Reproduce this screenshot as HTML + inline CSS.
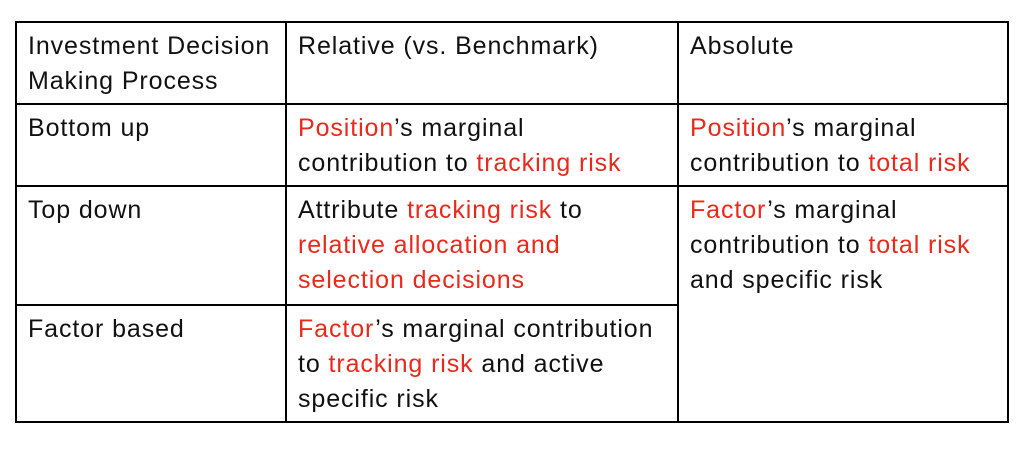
<!DOCTYPE html>
<html><head><meta charset="utf-8"><style>
html,body{margin:0;padding:0;background:#fff;width:1034px;height:464px;overflow:hidden}
body{font-family:"Liberation Sans",sans-serif;font-size:25px;letter-spacing:0.9px;color:#111}
.c{position:absolute;box-sizing:border-box;padding:7px 0 0 12px;line-height:35px;white-space:nowrap}
.r{color:#e8291c}
.h{position:absolute;background:#000;height:2px}
.v{position:absolute;background:#000;width:2px}
</style></head><body>
<div>
<div class="h" style="left:16px;top:21px;width:993px"></div>
<div class="h" style="left:16px;top:103px;width:993px"></div>
<div class="h" style="left:16px;top:185px;width:993px"></div>
<div class="h" style="left:16px;top:304px;width:663px"></div>
<div class="h" style="left:16px;top:421px;width:993px"></div>
<div class="v" style="left:15px;top:21px;height:402px"></div>
<div class="v" style="left:285px;top:21px;height:402px"></div>
<div class="v" style="left:677px;top:21px;height:402px"></div>
<div class="v" style="left:1007px;top:21px;height:402px"></div>

<div class="c" style="left:16px;top:22px">Investment Decision<br>Making Process</div>
<div class="c" style="left:286px;top:22px">Relative (vs. Benchmark)</div>
<div class="c" style="left:678px;top:22px">Absolute</div>

<div class="c" style="left:16px;top:104px">Bottom up</div>
<div class="c" style="left:286px;top:104px"><span class="r">Position</span>’s marginal<br>contribution to <span class="r">tracking risk</span></div>
<div class="c" style="left:678px;top:104px"><span class="r">Position</span>’s marginal<br>contribution to <span class="r">total risk</span></div>

<div class="c" style="left:16px;top:186px">Top down</div>
<div class="c" style="left:286px;top:186px">Attribute <span class="r">tracking risk</span> to<br><span class="r">relative allocation and</span><br><span class="r">selection decisions</span></div>
<div class="c" style="left:678px;top:186px"><span class="r">Factor</span>’s marginal<br>contribution to <span class="r">total risk</span><br>and specific risk</div>

<div class="c" style="left:16px;top:305px">Factor based</div>
<div class="c" style="left:286px;top:305px"><span class="r">Factor</span>’s marginal contribution<br>to <span class="r">tracking risk</span> and active<br>specific risk</div>
</div>
</body></html>
